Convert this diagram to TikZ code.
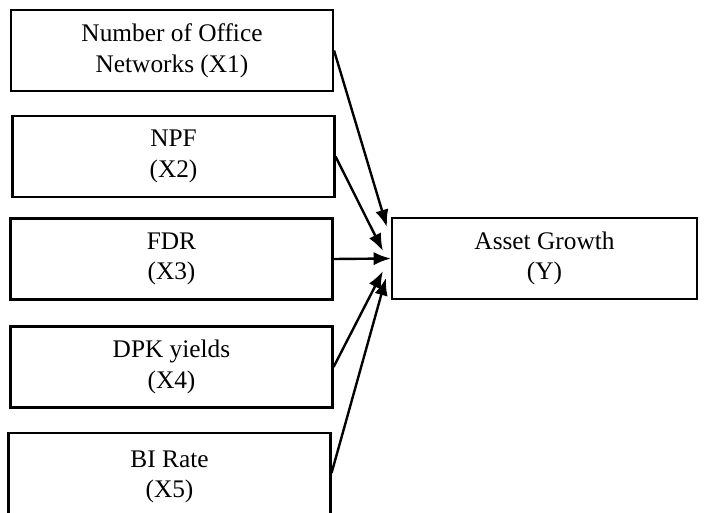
\documentclass[tikz,border=0pt]{standalone}
\usepackage{fontspec}
\setmainfont{Liberation Serif}
\usetikzlibrary{arrows.meta,calc}

\tikzset{
  varbox/.style={draw, rectangle, line width=1.6pt, align=center, inner sep=0pt,
    minimum width=241.5pt, minimum height=60.75pt,
    font=\fontsize{19}{23}\selectfont},
  effect/.style={line width=1.8pt, -{Latex[length=13pt,width=10pt]}}
}

\begin{document}
\begin{tikzpicture}[x=0.75pt,y=-0.75pt]
	\useasboundingbox (0,0) rectangle (706,513);
	% independent variables
	\node[varbox] (x1) at (172,50.5) {Number of Office\\Networks (X1)};
	\node[varbox] (x2) at (173.5,156.5) {NPF\\(X2)};
	\node[varbox] (x3) at (171.5,259) {FDR\\(X3)};
	\node[varbox] (x4) at (171.5,367) {DPK yields\\(X4)};
	\node[varbox, minimum height=66pt] (x5) at (169.5,477) {BI Rate\\(X5)};
	% dependent variable
	\node[varbox, minimum width=228.75pt] (y) at (544.5,258.5) {Asset Growth\\(Y)};
	% arrow tips along the left side of y
	\coordinate (t1) at ($(y.west)+(-4,-31.5)$);
	\coordinate (t2) at ($(y.west)+(-8,-7.5)$);
	\coordinate (t3) at (y.west);
	\coordinate (t4) at ($(y.west)+(-8,12.5)$);
	\coordinate (t5) at ($(y.west)+(-5,19.5)$);
	\draw[effect] (x1.east) -- (t1);
	\draw[effect] (x2.east) -- (t2);
	\draw[effect] (x3.east) -- (t3);
	\draw[effect] (x4.east) -- (t4);
	\draw[effect] ($(x5.east)+(0,-4)$) -- (t5);
\end{tikzpicture}
\end{document}
